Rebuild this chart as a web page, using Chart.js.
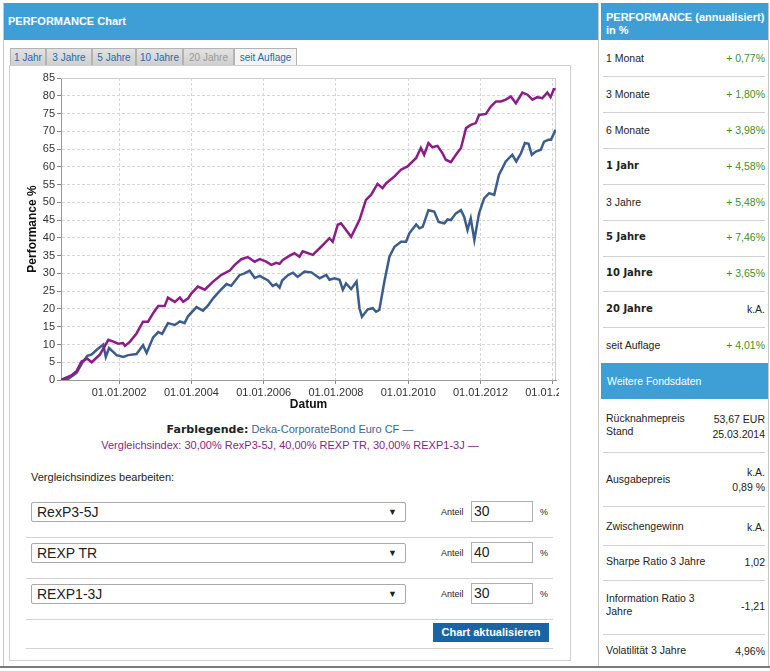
<!DOCTYPE html>
<html lang="de">
<head>
<meta charset="UTF-8">
<title>PERFORMANCE Chart</title>
<script src="https://cdn.jsdelivr.net/npm/chart.js"></script>
<style>
  body { margin: 0; background: #fff; font-family: "Liberation Sans", Arial, sans-serif; }
  #page { position: relative; width: 770px; height: 671px; overflow: hidden; }
  .a { position: absolute; white-space: nowrap; }
  .hdr { background: #3d9fd6; color: #fff; font-weight: bold; font-size: 11px; font-family: "Liberation Sans", Arial, sans-serif; }
  .tab { position: absolute; top: 48px; height: 17px; line-height: 17px; font-size: 10px; color: #2a6aa6;
         background: linear-gradient(#e2e2e2, #cfcfcf); border: 1px solid #b3b3b3; border-bottom: none;
         text-align: center; box-sizing: border-box; }
  .sep { position: absolute; height: 1px; background: #d3d3d3; }
  .sel { position: absolute; left: 31px; width: 375px; height: 20px; box-sizing: border-box; border: 1px solid #a9a9a9;
         border-radius: 2px; font-size: 14px; line-height: 18px; padding-left: 5px; color: #222; }
  .sel span { position: absolute; right: 8px; top: 0; font-size: 9px; }
  .inp { position: absolute; left: 471px; width: 62px; height: 21px; box-sizing: border-box; border: 1px solid #b0b0b0;
         font-size: 14px; line-height: 19px; padding-left: 2px; color: #222; }
  .lbl { font-size: 9px; color: #222; }
  .rl { font-size: 10.5px; color: #222; left: 606px; }
  .rv { font-size: 10.5px; color: #3f8f1f; right: 5px; text-align: right; }
  .b { font-weight: bold; font-family: "DejaVu Sans", sans-serif; font-size: 10px; }
</style>
</head>
<body>
<div id="page">
  <!-- Rahmen -->
  <div class="a" style="left:3px;top:3px;width:1px;height:664px;background:#c8c8c8"></div>
  <div class="a" style="left:598px;top:3px;width:1px;height:664px;background:#c8c8c8"></div>
  <div class="a" style="left:768px;top:3px;width:1px;height:664px;background:#c8c8c8"></div>
  <div class="a" style="left:0;top:666px;width:770px;height:2px;background:#7a7a7a"></div>

  <!-- Kopfzeilen -->
  <div class="a hdr" style="left:4px;top:3px;width:594px;height:37px;line-height:37px;padding-left:4px;box-sizing:border-box">PERFORMANCE Chart</div>
  <div class="a hdr" style="left:601px;top:3px;width:167px;height:37px;padding:8px 0 0 5px;box-sizing:border-box;line-height:13px">PERFORMANCE (annualisiert)<br>in %</div>

  <!-- Tabs -->
  <div class="tab" style="left:10px;width:36px">1 Jahr</div>
  <div class="tab" style="left:46px;width:46px">3 Jahre</div>
  <div class="tab" style="left:92px;width:44px">5 Jahre</div>
  <div class="tab" style="left:136px;width:47px">10 Jahre</div>
  <div class="tab" style="left:183px;width:51px;color:#9a9a9a">20 Jahre</div>
  <div class="tab" style="left:234px;width:63px;background:#f4f4f4">seit Auflage</div>

  <!-- Chartbox -->
  <div class="a" style="left:9px;top:65px;width:562px;height:596px;border:1px solid #cfcfcf;box-sizing:border-box"></div>
  <div class="a" style="left:10px;top:66px;width:549px;height:347px;overflow:hidden">
    <canvas id="perfChart" width="549" height="347"></canvas>
  </div>

  <!-- Farblegende -->
  <div class="a" style="left:9px;top:423px;width:562px;text-align:center;font-size:11px;color:#3d6492">
    <b style="color:#222;font-family:'DejaVu Sans',sans-serif">Farblegende:</b> Deka-CorporateBond Euro CF —</div>
  <div class="a" style="left:9px;top:439px;width:562px;text-align:center;font-size:11px;color:#8a2486">
    Vergleichsindex: 30,00% RexP3-5J, 40,00% REXP TR, 30,00% REXP1-3J —</div>

  <!-- Vergleichsindizes -->
  <div class="a" style="left:31px;top:471px;font-size:11px;color:#222">Vergleichsindizes bearbeiten:</div>

  <div class="sel" style="top:502px">RexP3-5J<span>▼</span></div>
  <div class="a lbl" style="left:441px;top:507px">Anteil</div>
  <div class="inp" style="top:501px">30</div>
  <div class="a lbl" style="left:540px;top:507px">%</div>
  <div class="sep" style="left:26px;top:537px;width:527px"></div>

  <div class="sel" style="top:543px">REXP TR<span>▼</span></div>
  <div class="a lbl" style="left:441px;top:548px">Anteil</div>
  <div class="inp" style="top:542px">40</div>
  <div class="a lbl" style="left:540px;top:548px">%</div>
  <div class="sep" style="left:26px;top:578px;width:527px"></div>

  <div class="sel" style="top:584px">REXP1-3J<span>▼</span></div>
  <div class="a lbl" style="left:441px;top:589px">Anteil</div>
  <div class="inp" style="top:583px">30</div>
  <div class="a lbl" style="left:540px;top:589px">%</div>
  <div class="sep" style="left:26px;top:619px;width:527px"></div>

  <div class="a" style="left:433px;top:623px;width:116px;height:19px;background:#1b64a3;color:#fff;font-weight:bold;font-size:11px;line-height:19px;text-align:center">Chart aktualisieren</div>
  <div class="sep" style="left:26px;top:648px;width:527px"></div>

  <!-- rechte Spalte -->
  <div id="right"></div>
</div>

<script>
// Fonds: Deka-CorporateBond Euro CF (Jahr als Dezimalzahl, Performance in %)
const fundDates = [2000.39, 2000.59, 2000.82, 2000.99, 2001.12, 2001.24, 2001.38, 2001.56, 2001.63, 2001.72,
  2001.93, 2002.11, 2002.25, 2002.48, 2002.66, 2002.76, 2002.94, 2003.08, 2003.19, 2003.35,
  2003.54, 2003.68, 2003.81, 2003.91, 2004.14, 2004.32, 2004.46, 2004.60, 2004.78, 2004.97,
  2005.10, 2005.33, 2005.47, 2005.61, 2005.75, 2005.89, 2006.12, 2006.25, 2006.35, 2006.44,
  2006.51, 2006.67, 2006.81, 2006.94, 2007.13, 2007.32, 2007.55, 2007.73, 2007.82, 2007.96,
  2008.10, 2008.19, 2008.28, 2008.42, 2008.57, 2008.65, 2008.72, 2008.88, 2009.02, 2009.11,
  2009.20, 2009.34, 2009.48, 2009.62, 2009.80, 2009.94, 2010.03, 2010.22, 2010.31, 2010.40,
  2010.56, 2010.72, 2010.84, 2011.00, 2011.09, 2011.18, 2011.32, 2011.46, 2011.55, 2011.64,
  2011.73, 2011.83, 2011.96, 2012.10, 2012.24, 2012.38, 2012.51, 2012.70, 2012.88, 2012.99,
  2013.12, 2013.23, 2013.33, 2013.42, 2013.53, 2013.67, 2013.76, 2013.88, 2013.95, 2014.08];
const fundValues = [0, 0.3, 2, 5, 6.8, 7.2, 8.5, 10, 6.5, 9,
  7, 6.5, 7, 7.3, 9.8, 7.6, 12, 13.5, 13, 16,
  15.5, 16.5, 16, 18, 20.5, 19.5, 21, 23, 25, 27,
  26.5, 29.5, 30, 30.8, 28.7, 29.3, 28, 26.5, 27, 26,
  28, 29.5, 30.2, 29, 30.5, 30.3, 28.6, 29.6, 28.2, 28.6,
  28.2, 25.4, 27.2, 25.6, 27.7, 20.2, 17.8, 19.9, 20.2, 19.2,
  19.7, 27.7, 34.7, 37.5, 38.9, 38.9, 41.3, 43.8, 42.7, 43.1,
  47.8, 47.4, 44.5, 44.1, 45.2, 45, 46.9, 47.8, 45.9, 42.2,
  45.5, 39.4, 46.9, 51.1, 52.6, 52.1, 57.7, 61.5, 63.4, 61.5,
  63.8, 66.7, 66.5, 63.4, 64.3, 64.8, 67.1, 67.6, 67.6, 70.4];

// Vergleichsindex
const indexDates = [2000.39, 2000.69, 2000.82, 2000.96, 2001.12, 2001.24, 2001.47, 2001.70, 2001.84, 2001.97,
  2002.11, 2002.16, 2002.30, 2002.48, 2002.66, 2002.80, 2002.94, 2003.08, 2003.26, 2003.35,
  2003.54, 2003.68, 2003.77, 2003.91, 2004.00, 2004.18, 2004.37, 2004.60, 2004.83, 2005.06,
  2005.20, 2005.38, 2005.56, 2005.75, 2005.89, 2006.07, 2006.21, 2006.35, 2006.44, 2006.53,
  2006.72, 2006.85, 2006.99, 2007.08, 2007.36, 2007.59, 2007.82, 2007.91, 2008.05, 2008.14,
  2008.42, 2008.65, 2008.83, 2008.97, 2009.15, 2009.29, 2009.39, 2009.62, 2009.80, 2009.98,
  2010.22, 2010.35, 2010.44, 2010.56, 2010.67, 2010.81, 2010.95, 2011.04, 2011.18, 2011.32,
  2011.46, 2011.60, 2011.73, 2011.87, 2011.96, 2012.15, 2012.29, 2012.43, 2012.56, 2012.70,
  2012.84, 2012.98, 2013.16, 2013.30, 2013.44, 2013.57, 2013.71, 2013.85, 2013.94, 2014.03, 2014.08];
const indexValues = [0, 1.4, 2.5, 5.2, 6, 5, 7.2, 11.3, 10.8, 10.2,
  10.4, 9.6, 10.8, 13.1, 16.4, 16.4, 18.8, 20.8, 20.8, 23.2,
  22, 23.2, 22, 23, 24.4, 26.3, 25.4, 27.7, 29.6, 30.8,
  32.4, 34, 34.6, 33.3, 34, 33.3, 32.4, 33, 32.7, 33.8,
  35, 35.7, 34.7, 36.2, 35.2, 37.5, 39.9, 38.9, 43.7, 44.1,
  40.3, 45, 50.7, 52.1, 55.2, 54, 55.4, 57.3, 59.2, 60.1,
  62.5, 65.3, 63.4, 66.7, 65.5, 65.9, 63.8, 62, 61.3, 63.4,
  65.3, 70.9, 71.8, 72.3, 74.6, 74.9, 77, 78.4, 78.4, 78.9,
  79.8, 77.9, 80.9, 80.3, 78.9, 79.6, 79.3, 80.9, 79.6, 81.8, 81.8];

const tickYears = [2002, 2004, 2006, 2008, 2010, 2012, 2014];

// rechte Spalte: Bezeichnung, Wert, Zeile (y-Mitte), fett
const perfRows = [
  ['1 Monat', '+ 0,77%', 58, false],
  ['3 Monate', '+ 1,80%', 94, false],
  ['6 Monate', '+ 3,98%', 130, false],
  ['1 Jahr', '+ 4,58%', 166, true],
  ['3 Jahre', '+ 5,48%', 202, false],
  ['5 Jahre', '+ 7,46%', 237, true],
  ['10 Jahre', '+ 3,65%', 273, true],
  ['20 Jahre', 'k.A.', 309, true],
  ['seit Auflage', '+ 4,01%', 345, false]
];
const perfSeps = [76, 112, 148, 184, 220, 256, 291, 327];

const fundRows = [
  [['Rücknahmepreis', 'Stand'], ['53,67 EUR', '25.03.2014'], 425, 425],
  [['Ausgabepreis'], ['k.A.', '0,89 %'], 479, 478],
  [['Zwischengewinn'], ['k.A.'], 526, 526],
  [['Sharpe Ratio 3 Jahre'], ['1,02'], 561, 561],
  [['Information Ratio 3', 'Jahre'], ['-1,21'], 605, 605],
  [['Volatilität 3 Jahre'], ['4,96%'], 650, 650]
];
const fundSeps = [452, 506, 545, 580, 634];

const right = document.getElementById('right');
function add(html) { right.insertAdjacentHTML('beforeend', html); }

perfRows.forEach(([label, val, y, bold]) => {
  add(`<div class="a rl${bold ? ' b' : ''}" style="top:${y - 7}px;line-height:14px">${label}</div>`);
  const col = val === 'k.A.' ? 'color:#222;' : '';
  add(`<div class="a rv" style="top:${y - 7}px;line-height:14px;${col}">${val}</div>`);
});
perfSeps.forEach(y => add(`<div class="sep" style="left:603px;top:${y}px;width:162px"></div>`));

add('<div class="a" style="left:601px;top:363px;width:167px;height:36px;background:#3d9fd6;color:#fff;font-size:10.5px;line-height:36px;padding-left:6px;box-sizing:border-box">Weitere Fondsdaten</div>');

fundRows.forEach(([labels, vals, yl, yv]) => {
  const lh = 13;
  add(`<div class="a rl" style="top:${yl - labels.length * lh / 2}px;line-height:${lh}px">${labels.join('<br>')}</div>`);
  add(`<div class="a rv" style="color:#222;top:${yv - vals.length * lh / 2}px;line-height:${lh + 2}px">${vals.join('<br>')}</div>`);
});
fundSeps.forEach(y => add(`<div class="sep" style="left:603px;top:${y}px;width:162px"></div>`));

// Rahmen um die Zeichenfläche (oben/rechts)
const framePlugin = {
  id: 'frame',
  beforeDatasetsDraw(chart) {
    const { ctx, chartArea: a } = chart;
    ctx.save();
    ctx.strokeStyle = '#cfcfcf';
    ctx.lineWidth = 1;
    ctx.beginPath();
    ctx.moveTo(a.left, a.top + 0.5);
    ctx.lineTo(a.right - 0.5, a.top + 0.5);
    ctx.lineTo(a.right - 0.5, a.bottom);
    ctx.stroke();
    ctx.restore();
  }
};

const font = { family: '"Liberation Sans", Arial, sans-serif', size: 11 };

new Chart(document.getElementById('perfChart').getContext('2d'), {
  type: 'line',
  data: {
    datasets: [
      {
        label: 'Vergleichsindex',
        data: indexDates.map((d, i) => ({ x: d, y: indexValues[i] })),
        borderColor: '#8b1c88',
        borderWidth: 2.5,
        pointRadius: 0,
        tension: 0
      },
      {
        label: 'Deka-CorporateBond Euro CF',
        data: fundDates.map((d, i) => ({ x: d, y: fundValues[i] })),
        borderColor: '#3a5d8d',
        borderWidth: 2.5,
        pointRadius: 0,
        tension: 0
      }
    ]
  },
  options: {
    responsive: false,
    animation: false,
    layout: { padding: { top: 12, right: 3, left: 0, bottom: 0 } },
    plugins: { legend: { display: false }, tooltip: { enabled: false } },
    scales: {
      x: {
        type: 'linear',
        min: 2000.39,
        max: 2014.09,
        afterBuildTicks: s => { s.ticks = tickYears.map(v => ({ value: v })); },
        afterFit: s => { s.paddingLeft = 0; s.paddingRight = 0; s.height = 33; },
        ticks: {
          callback: v => '01.01.' + v,
          font: font, color: '#333', padding: 2, maxRotation: 0, autoSkip: false
        },
        grid: { color: '#d6d6d6', tickLength: 4, tickColor: '#888', tickBorderDash: [] },
        border: { color: '#999', dash: [3, 2] },
        title: { display: true, text: 'Datum', color: '#111',
                 font: { family: font.family, size: 12, weight: 'bold' }, padding: { top: 0, bottom: 1 } }
      },
      y: {
        min: 0,
        max: 85,
        afterFit: s => { s.paddingTop = 0; s.paddingBottom = 0; s.width = 51; },
        ticks: { stepSize: 5, font: font, color: '#333', padding: 2 },
        grid: { color: '#d6d6d6', tickLength: 4, tickColor: '#888', tickBorderDash: [] },
        border: { color: '#999', dash: [3, 2] },
        title: { display: true, text: 'Performance %', color: '#111',
                 font: { family: font.family, size: 12, weight: 'bold' }, padding: { top: 15, bottom: 0 } }
      }
    }
  },
  plugins: [framePlugin]
});
</script>
</body>
</html>
